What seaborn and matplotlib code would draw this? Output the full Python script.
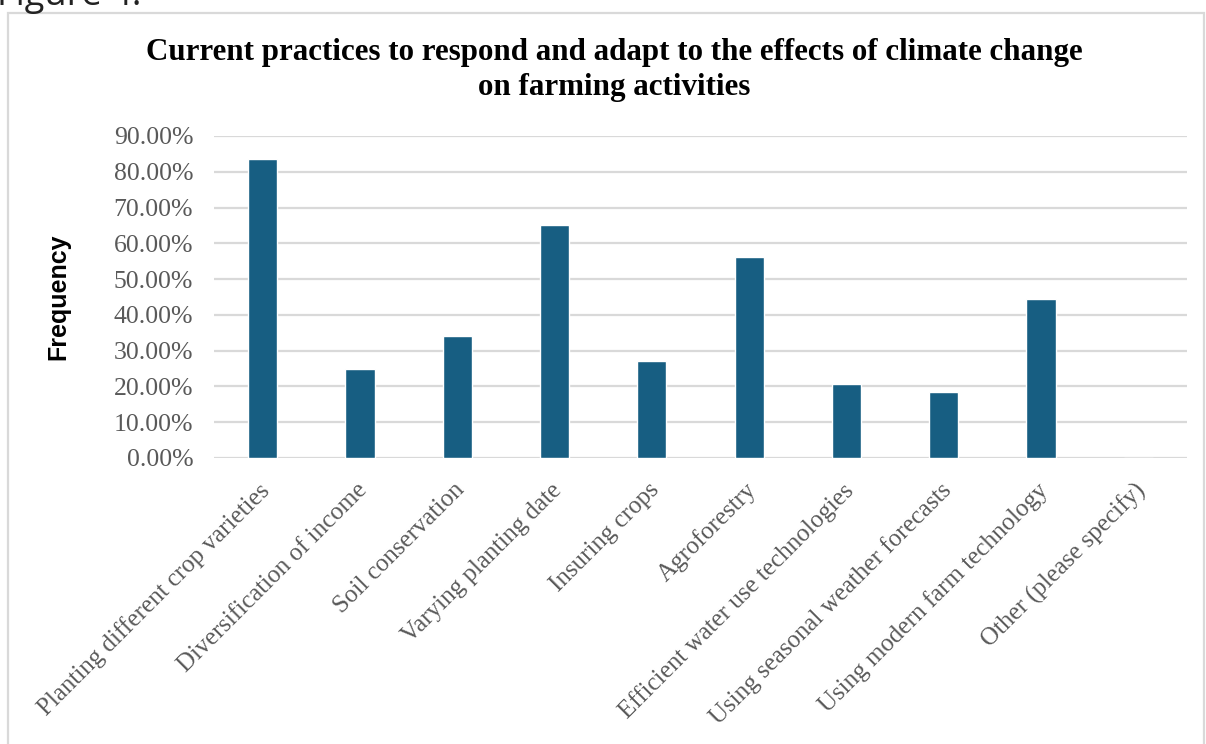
import pandas as pd
import matplotlib
matplotlib.use('Agg')
import matplotlib.pyplot as plt
import matplotlib.ticker as ticker
from matplotlib.patches import Rectangle
from matplotlib.transforms import ScaledTranslation
import seaborn as sns

# Data (in %)
practices = [
    "Planting different crop varieties",
    "Diversification of income",
    "Soil conservation",
    "Varying planting date",
    "Insuring crops",
    "Agroforestry",
    "Efficient water use technologies",
    "Using seasonal weather forecasts",
    "Using modern farm technology",
    "Other (please specify)",
]
frequency = [83.5, 25.0, 34.2, 65.1, 27.1, 56.1, 20.6, 18.5, 44.4, 0.0]
y_ticks = [0, 10, 20, 30, 40, 50, 60, 70, 80, 90]

BAR_COLOR = "#175E82"
GRID_COLOR = "#D9D9D9"
TICK_COLOR = "#595959"

df = pd.DataFrame({"Practice": practices, "Frequency": frequency})

sns.set_theme(style="white")
plt.rcParams["font.family"] = ["Liberation Serif", "DejaVu Serif"]

fig = plt.figure(figsize=(12.06, 7.44), dpi=100, facecolor="white")
W, H = 1206, 744

# light grey frame around the chart (runs off the bottom edge)
fig.patches.append(Rectangle((8 / W, -0.05), (1204 - 8) / W, (H - 13) / H + 0.05,
                             transform=fig.transFigure, fill=False,
                             edgecolor=GRID_COLOR, linewidth=1.6))

# caption above the frame, cut by the top edge
fig.text(-3 / W, 1 - 5 / H, "Figure 4.", family="Open Sans", fontsize=26,
         color="#222222", ha="left", va="baseline")

ax = fig.add_axes([214 / W, 1 - 458 / H, (1187 - 214) / W, (458 - 136) / H])

sns.barplot(data=df, x="Practice", y="Frequency", color=BAR_COLOR,
            width=0.3, saturation=1, ax=ax, zorder=3)

ax.set_ylim(0, 90)
ax.set_xlim(-0.5, len(practices) - 0.5)
ax.set_yticks(y_ticks)
ax.yaxis.set_major_formatter(ticker.PercentFormatter(xmax=100, decimals=2))
ax.yaxis.grid(True, color=GRID_COLOR, linewidth=1.6, zorder=0)
ax.set_axisbelow(True)
for s in ax.spines.values():
    s.set_visible(False)

ax.tick_params(axis="y", length=0, pad=15, labelsize=18.5, labelcolor=TICK_COLOR)
ax.tick_params(axis="x", length=0, pad=15, labelsize=18, labelcolor=TICK_COLOR)
ax.set_xticks(range(len(practices)))
ax.set_xticklabels(practices, rotation=45, ha="right", rotation_mode="anchor")
# nudge the slanted labels a little to the left
shift = ScaledTranslation(-3 / 72, 0, fig.dpi_scale_trans)
for lbl in ax.get_xticklabels():
    lbl.set_transform(lbl.get_transform() + shift)

ax.set_xlabel("")
ax.set_ylabel("Frequency", family="Liberation Sans", fontweight="bold",
              fontsize=18, color="black")
ax.yaxis.set_label_coords((70 - 214) / 973, 0.5)

fig.text(614 / W, 1 - 70 / H,
         "Current practices to respond and adapt to the effects of climate change\non farming activities",
         ha="center", va="center", fontsize=22.3, fontweight="bold",
         color="black", linespacing=1.28)

fig.savefig("out.png", dpi=100, facecolor="white")
